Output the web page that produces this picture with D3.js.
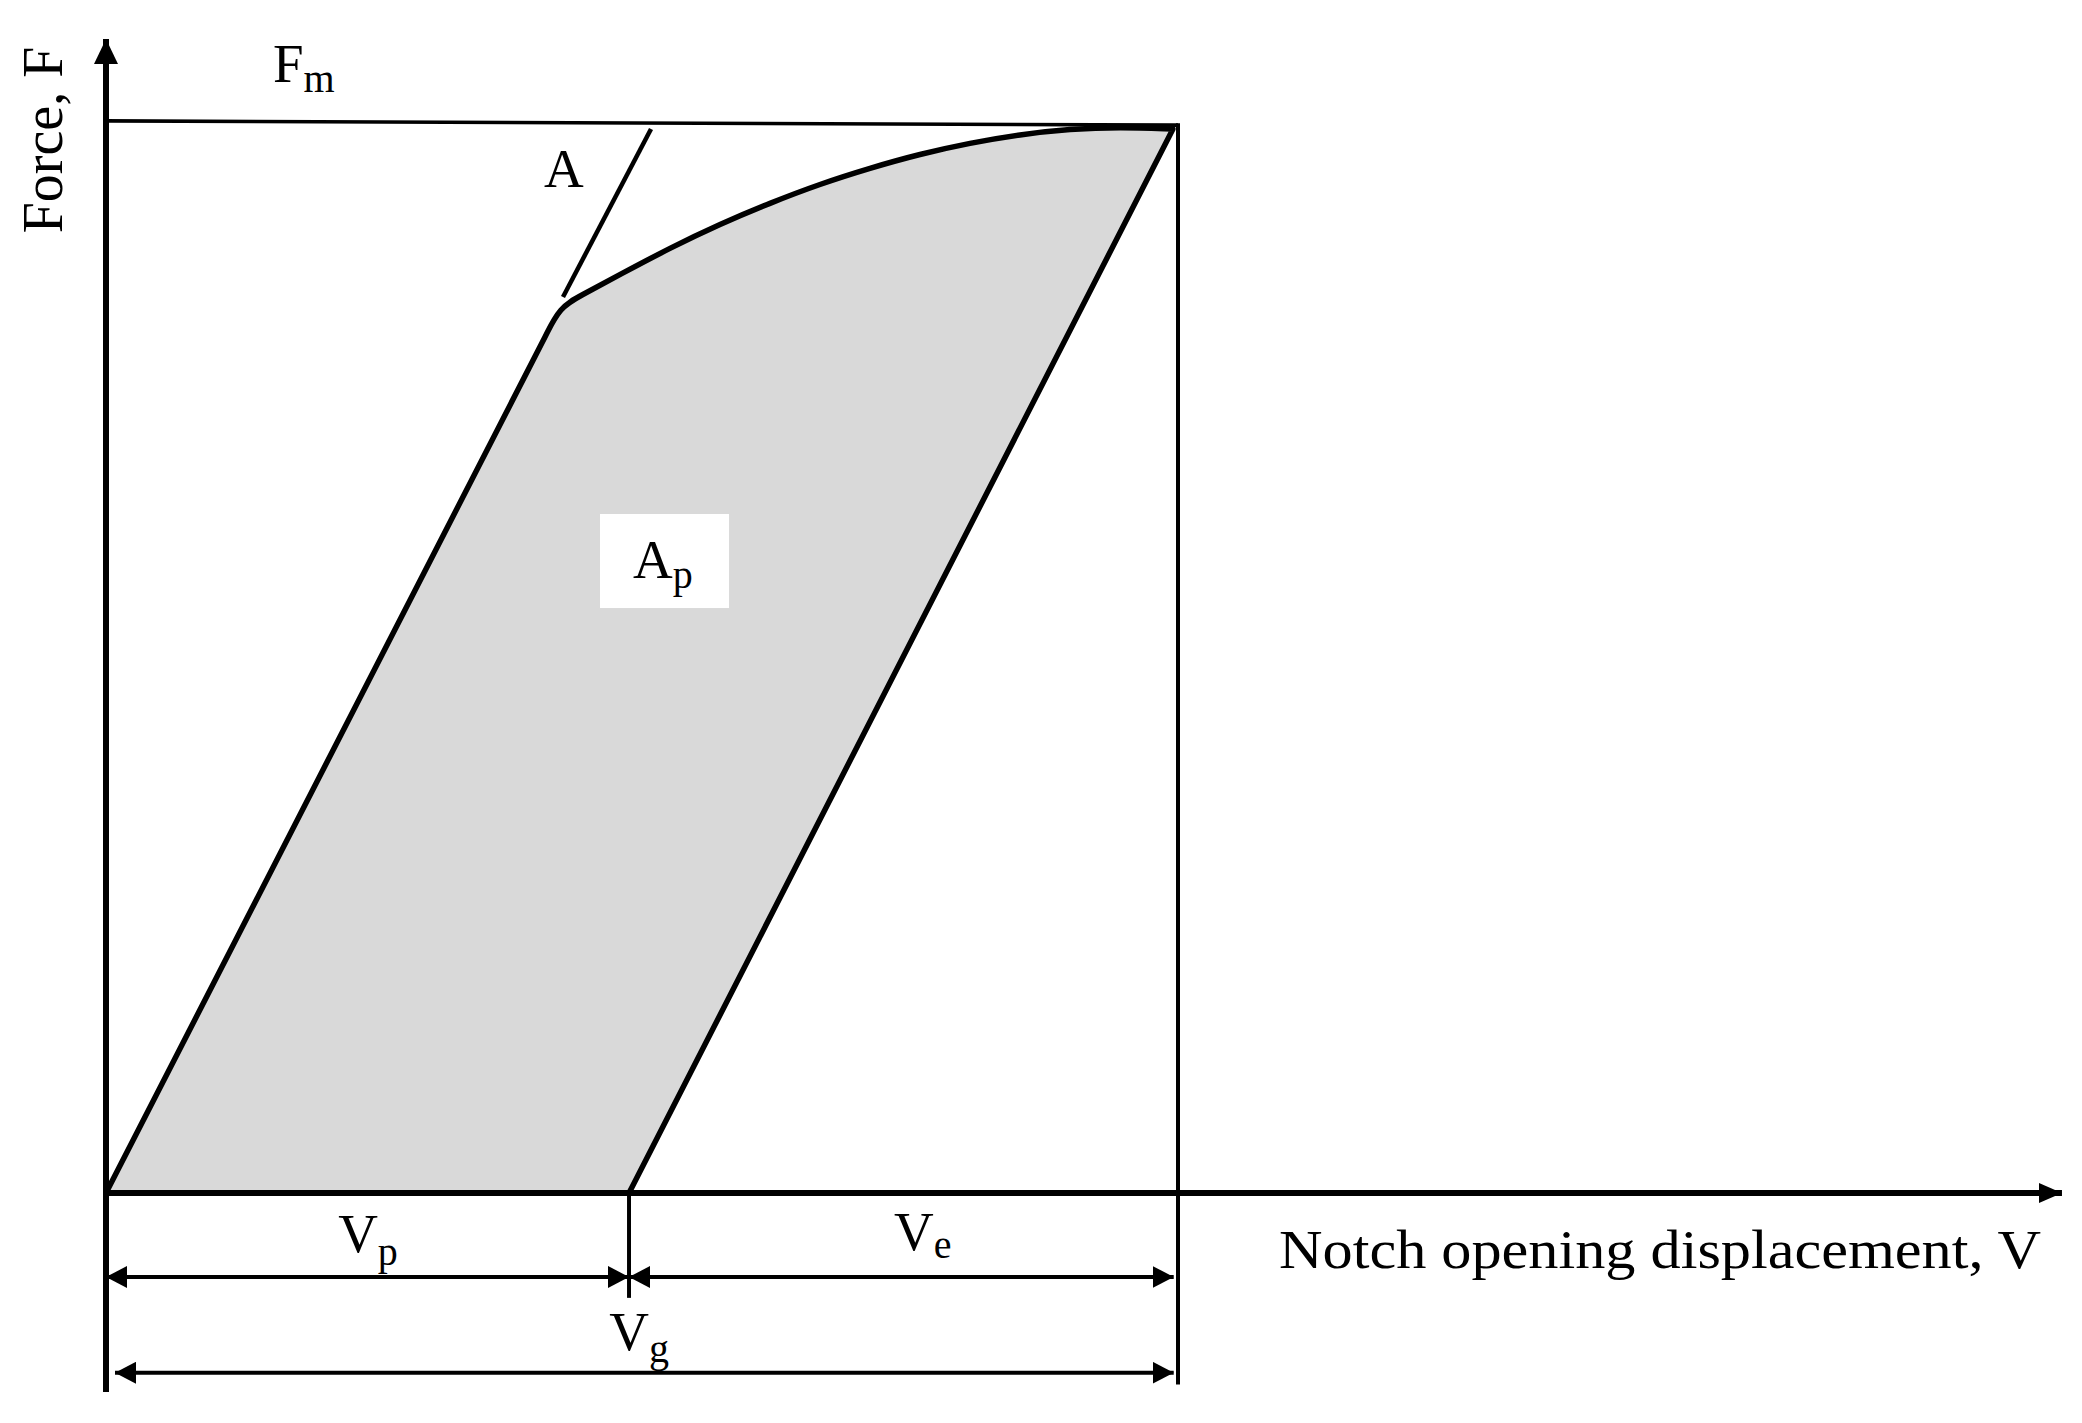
<!DOCTYPE html>
<html>
<head>
<meta charset="utf-8">
<script src="https://cdn.jsdelivr.net/npm/d3@7"></script>
<style>
  html, body { margin: 0; padding: 0; background: #fff; }
  svg { display: block; }
  text { font-family: "Liberation Serif", "Times New Roman", serif; fill: #000; }
</style>
</head>
<body>
<script>
// ---------- data (V in units of Vg, F in units of Fm) ----------
const axisExtentV = 1.8246;          // x-axis arrow reach
const axisExtentF = 1.0785;          // y-axis arrow reach
const axisBelowF = -0.186;           // y-axis continues below origin
const Vp = 0.4879;                   // plastic part of displacement
const Vg = 1.0;                      // total displacement
const loadingLine = [[0, 0], [0.4095, 0.8000]];
// control points of the plastic part (knee corner included, smoothed by a B-spline)
const plasticCurve = [
  [0.4095, 0.8000], [0.4235, 0.8280], [0.4422, 0.8383], [0.4795, 0.8584],
  [0.5261, 0.8832], [0.5728, 0.9056], [0.6194, 0.9252], [0.6660, 0.9430],
  [0.7127, 0.9579], [0.7593, 0.9710], [0.8060, 0.9813], [0.8526, 0.9893],
  [0.8993, 0.9944], [0.9459, 0.9963], [0.9953, 0.9944]
];
const tangentA = [[0.4263, 0.8374], [0.5084, 0.9944]];
const fmLine = [[0, 1.002], [1.0, 0.998]];
const rightLineF = [0.998, -0.179];
const tickVpF = [0, -0.098];
const dimRowF = [-0.0785, -0.168];  // Vp/Ve row, Vg row
const dimSpans = [
  { from: 0, to: Vp, row: 0 },
  { from: Vp, to: 0.996, row: 0 },
  { from: 0.0084, to: 0.996, row: 1 }
];
const labels = [
  { main: "F", sub: "m", v: 0.1558, f: 1.0383, dy: 10, anchor: "start" },
  { main: "A", sub: "",  v: 0.4086, f: 0.9402, dy: 0, anchor: "start" },
  { main: "A", sub: "p", v: 0.4916, f: 0.5748, dy: 10, anchor: "start" },
  { main: "V", sub: "p", v: 0.2444, f: -0.0551, dy: 13, anchor: "middle" },
  { main: "V", sub: "e", v: 0.7351, f: -0.0533, dy: 8, anchor: "start" },
  { main: "V", sub: "g", v: 0.4974, f: -0.1464, dy: 12, anchor: "middle" }
];
const apBox = { v0: 0.4608, v1: 0.5812, f0: 0.6346, f1: 0.5467 };
const yTitle = "Force, F";
const xTitle = "Notch opening displacement, V";

// ---------- drawing ----------
const W = 2082, H = 1423;
const x = d3.scaleLinear().domain([0, 1]).range([106, 1178]);
const y = d3.scaleLinear().domain([0, 1]).range([1193, 123]);

const svg = d3.select("body").append("svg").attr("width", W).attr("height", H);
svg.append("rect").attr("width", W).attr("height", H).attr("fill", "#fff");

const defs = svg.append("defs");
function marker(id, len, half) {
  defs.append("marker").attr("id", id)
    .attr("viewBox", `0 0 ${len} ${2 * half}`)
    .attr("refX", len).attr("refY", half)
    .attr("markerWidth", len).attr("markerHeight", 2 * half)
    .attr("markerUnits", "userSpaceOnUse")
    .attr("orient", "auto-start-reverse")
    .append("path").attr("d", `M0,0L${len},${half}L0,${2 * half}Z`).attr("fill", "#000");
}
marker("axArrowY", 25, 12);
marker("axArrowX", 23, 10);
marker("dimArrow", 21, 11);

const curveGen = d3.line().x(d => x(d[0])).y(d => y(d[1])).curve(d3.curveBasis);
const plasticPath = curveGen(plasticCurve).replace(/^M/, "L");
const startPt = `M${x(loadingLine[0][0])},${y(loadingLine[0][1])}`;
const endPt = `L${x(Vp)},${y(0)}`;

// gray area Ap
svg.append("path").attr("d", startPt + plasticPath + endPt + "Z")
  .attr("fill", "#d9d9d9").attr("stroke", "none");

// white label box
svg.append("rect")
  .attr("x", x(apBox.v0)).attr("y", y(apBox.f0))
  .attr("width", x(apBox.v1) - x(apBox.v0)).attr("height", y(apBox.f1) - y(apBox.f0))
  .attr("fill", "#fff");

// Fm line and right border
const lin = d3.line().x(d => x(d[0])).y(d => y(d[1]));
svg.append("path").attr("d", lin(fmLine)).attr("stroke", "#000").attr("stroke-width", 3.6).attr("fill", "none");
svg.append("line").attr("x1", x(Vg)).attr("x2", x(Vg)).attr("y1", y(rightLineF[0]) - 2).attr("y2", y(rightLineF[1]))
  .attr("stroke", "#000").attr("stroke-width", 4);

// curve stroke
svg.append("path").attr("d", startPt + plasticPath + endPt)
  .attr("fill", "none").attr("stroke", "#000").attr("stroke-width", 5.5)
  .attr("stroke-linejoin", "round");

// tangent A
svg.append("path").attr("d", lin(tangentA)).attr("stroke", "#000").attr("stroke-width", 4.5).attr("fill", "none");

// Vp tick
svg.append("line").attr("x1", x(Vp)).attr("x2", x(Vp)).attr("y1", y(tickVpF[0])).attr("y2", y(tickVpF[1]))
  .attr("stroke", "#000").attr("stroke-width", 4);

// dimension arrows
dimSpans.forEach(s => {
  svg.append("line")
    .attr("x1", x(s.from)).attr("x2", x(s.to))
    .attr("y1", y(dimRowF[s.row])).attr("y2", y(dimRowF[s.row]))
    .attr("stroke", "#000").attr("stroke-width", 4)
    .attr("marker-start", "url(#dimArrow)").attr("marker-end", "url(#dimArrow)");
});

// axes
svg.append("line").attr("x1", x(0)).attr("x2", x(0)).attr("y1", y(axisBelowF)).attr("y2", y(axisExtentF))
  .attr("stroke", "#000").attr("stroke-width", 6).attr("marker-end", "url(#axArrowY)");
svg.append("line").attr("x1", x(0) - 3).attr("x2", x(axisExtentV)).attr("y1", y(0)).attr("y2", y(0))
  .attr("stroke", "#000").attr("stroke-width", 6).attr("marker-end", "url(#axArrowX)");

// labels
labels.forEach(l => {
  const t = svg.append("text").attr("x", x(l.v)).attr("y", y(l.f))
    .attr("text-anchor", l.anchor).attr("font-size", 55);
  t.append("tspan").text(l.main);
  if (l.sub) t.append("tspan").attr("font-size", 40).attr("dy", l.dy).text(l.sub);
});

svg.append("text").attr("transform", "translate(62,140) rotate(-90)")
  .attr("text-anchor", "middle").attr("font-size", 56).text(yTitle);
svg.append("text").attr("x", 1279).attr("y", 1268).attr("font-size", 55)
  .attr("textLength", 762).attr("lengthAdjust", "spacingAndGlyphs").text(xTitle);
</script>
</body>
</html>
